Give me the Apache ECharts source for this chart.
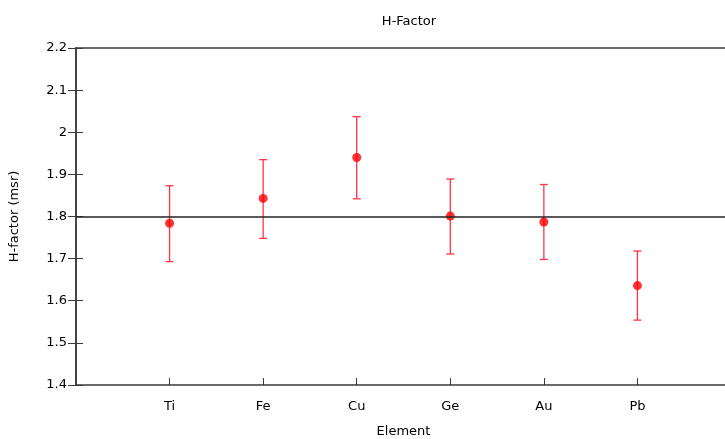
<!DOCTYPE html>
<html>
<head>
<meta charset="utf-8">
<script src="https://cdn.jsdelivr.net/npm/echarts@6/dist/echarts.min.js"></script>
<style>
  html, body { margin: 0; padding: 0; background: #fff; }
  #chart { width: 725px; height: 439px; }
</style>
</head>
<body>
<div id="chart"></div>
<script>
// Elements measured and their H-factor with uncertainty range
const elements = ['Ti', 'Fe', 'Cu', 'Ge', 'Au', 'Pb'];
const hFactor = [1.784, 1.843, 1.940, 1.801, 1.787, 1.636];
const hLow = [1.693, 1.748, 1.842, 1.711, 1.698, 1.554];
const hHigh = [1.873, 1.935, 2.037, 1.889, 1.876, 1.718];
const referenceLevel = 1.8;
const yTicks = [1.4, 1.5, 1.6, 1.7, 1.8, 1.9, 2.0, 2.1, 2.2];

const font = 'DejaVu Sans, Verdana, sans-serif';
const axisColor = '#3a3a3a';
const textColor = '#000';

const points = elements.map((e, i) => [i + 1, hFactor[i]]);
const bars = elements.map((e, i) => [i + 1, hLow[i], hHigh[i]]);

const chart = echarts.init(document.getElementById('chart'), null, { renderer: 'canvas' });

chart.setOption({
  animation: false,
  backgroundColor: '#ffffff',
  title: {
    text: 'H-Factor',
    left: 404,
    top: 10,
    textAlign: 'center',
    textStyle: { fontFamily: font, fontSize: 13, fontWeight: 'normal', color: textColor }
  },
  grid: { left: 76, top: 48, width: 655, height: 337, containLabel: false, outerBoundsMode: 'none' },
  xAxis: [{
    type: 'value',
    min: 0,
    max: 7,
    interval: 1,
    name: 'Element',
    nameLocation: 'middle',
    nameGap: 40,
    nameTextStyle: { fontFamily: font, fontSize: 13, color: textColor },
    axisLine: { show: true, lineStyle: { color: axisColor, width: 1.5 } },
    axisTick: { show: true, inside: true, length: 7, lineStyle: { color: axisColor, width: 1 } },
    axisLabel: {
      margin: 15,
      fontFamily: font, fontSize: 13, color: textColor,
      formatter: v => (v >= 1 && v <= elements.length) ? elements[v - 1] : ''
    },
    splitLine: { show: false }
  }, {
    type: 'value',
    position: 'top',
    min: 0,
    max: 7,
    interval: 1,
    axisLine: { show: true, lineStyle: { color: axisColor, width: 1.5 } },
    axisTick: { show: false },
    axisLabel: { show: false },
    splitLine: { show: false }
  }],
  yAxis: [{
    type: 'value',
    min: yTicks[0],
    max: yTicks[yTicks.length - 1],
    interval: 0.1,
    name: 'H-factor (msr)',
    nameLocation: 'middle',
    nameGap: 55,
    nameTextStyle: { fontFamily: font, fontSize: 13, color: textColor },
    axisLine: { show: true, lineStyle: { color: axisColor, width: 1.5 } },
    axisTick: { show: true, inside: true, length: 7, lineStyle: { color: axisColor, width: 1 } },
    axisLabel: {
      margin: 9,
      fontFamily: font, fontSize: 13, color: textColor,
      formatter: v => String(parseFloat(v.toFixed(1)))
    },
    splitLine: { show: false }
  }, {
    type: 'value',
    position: 'right',
    min: yTicks[0],
    max: yTicks[yTicks.length - 1],
    interval: 0.1,
    axisLine: { show: true, lineStyle: { color: axisColor, width: 1.5 } },
    axisTick: { show: true, inside: true, length: 8, lineStyle: { color: axisColor, width: 1 } },
    axisLabel: { show: false },
    splitLine: { show: false }
  }],
  series: [{
    // horizontal reference level
    type: 'line',
    data: [],
    markLine: {
      silent: true,
      symbol: ['none', 'none'],
      label: { show: false },
      lineStyle: { color: '#222', width: 1.5, type: 'solid' },
      data: [{ yAxis: referenceLevel }]
    }
  }, {
    // uncertainty ranges with end caps
    type: 'custom',
    data: bars,
    z: 3,
    renderItem: function (params, api) {
      const x = api.value(0);
      const lo = api.coord([x, api.value(1)]);
      const hi = api.coord([x, api.value(2)]);
      const cap = 4;
      const style = { stroke: '#ff3344', lineWidth: 1.3 };
      return {
        type: 'group',
        children: [
          { type: 'line', shape: { x1: lo[0], y1: lo[1], x2: hi[0], y2: hi[1] }, style },
          { type: 'line', shape: { x1: hi[0] - cap, y1: hi[1], x2: hi[0] + cap, y2: hi[1] }, style },
          { type: 'line', shape: { x1: lo[0] - cap, y1: lo[1], x2: lo[0] + cap, y2: lo[1] }, style }
        ]
      };
    }
  }, {
    type: 'scatter',
    data: points,
    z: 4,
    symbol: 'circle',
    symbolSize: 9,
    itemStyle: { color: '#ff0000' }
  }]
});
</script>
</body>
</html>
